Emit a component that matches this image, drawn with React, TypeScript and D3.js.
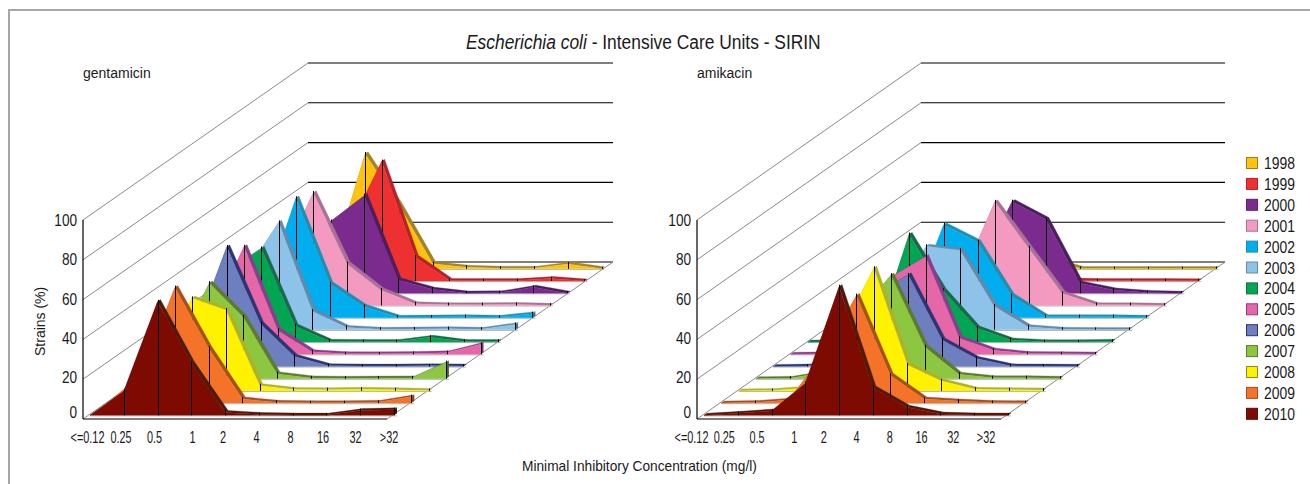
import React from "react";
import * as d3 from "d3";

const years = ["1998","1999","2000","2001","2002","2003","2004","2005","2006","2007","2008","2009","2010"];
const micLabels = ["<=0.12","0.25","0.5","1","2","4","8","16","32",">32"];
const yTicks = [100,80,60,40,20,0];

const faceColors = ["#FFC20E","#EE3130","#7B2A8E","#F49AC1","#00AEEF","#8DC3E9","#00A651","#E667A8","#6E7FBF","#8DC63F","#FFF200","#F47328","#7D0B02"];
const stripColors = ["#A08428","#B5222D","#4B1E5E","#A77296","#1F8FAF","#6689A9","#19694A","#8C3C90","#2A3574","#5D7B2E","#ADB22E","#A5501F","#4E1A0A"];
const legendBorders = ["#A57C1B","#B5222D","#5A2470","#A77296","#1F8FAF","#6689A9","#19694A","#8C3C90","#2A3574","#5D7B2E","#8C8A20","#A5501F","#5A1208"];

const gent1998 = [0,1,57.7,32,2.5,0.8,0.3,0.3,2.4,0];
const gent1999 = [0,5,25,60,12,0.2,0.2,0.2,1.2,0];
const gent2000 = [0,10,36,49,6.7,2,0.1,0.2,3,0];
const gent2001 = [0,21,56.5,21,7.8,0.8,0.4,0.4,0.5,0.1];
const gent2002 = [0,9.5,60,17,5.6,0.2,0.3,0.5,0.2,2];
const gent2003 = [0,28,54,9.4,1.2,0.3,0.4,0.6,0.3,2.7];
const gent2004 = [0,36,47,8,0.4,0.3,0.3,2.4,0.3,0.3];
const gent2005 = [0,18,54,12,1.2,0.3,0.2,0.4,0.8,5];
const gent2006 = [0,14,60,21.4,5,0.3,0.2,0.2,0.3,0.2];
const gent2007 = [0,15,48,31,2.4,0.4,0.2,0.3,0.4,8];
const gent2008 = [0,15,46.5,40.6,2.6,0.7,0.6,0.8,0.6,0.2];
const gent2009 = [0,14,58,27.6,2,0.4,0.2,0.2,0.4,3.2];
const gent2010 = [0,12,57,26,1.4,0.4,0.1,0.1,2.4,2.8];
const gentamicin = [gent1998,gent1999,gent2000,gent2001,gent2002,gent2003,gent2004,gent2005,gent2006,gent2007,gent2008,gent2009,gent2010];

const amik1998 = [0,0.1,0.5,2,5,0.2,0.1,0.1,0.1,0.1];
const amik1999 = [0,0.1,1,8,30,0.6,0.2,0.2,0.2,0.1];
const amik2000 = [0,0.2,2,12,46,37,5,1.6,0.4,0];
const amik2001 = [0,0.3,2,13,52,29,6,0.4,0.4,0.1];
const amik2002 = [0,0.3,3,46.6,38,11,0.5,0.5,0.5,0.2];
const amik2003 = [0,0.3,15,42,40,12,1.5,0.3,0.2,0.2];
const amik2004 = [0,0.2,2,54,26,7,1,0.2,0.2,0.4];
const amik2005 = [0,0.2,3,39,49,8,2,0.4,0.3,0.1];
const amik2006 = [0,0.2,3,36,46,13.3,4,0.3,0.2,0.1];
const amik2007 = [0,0.2,3,32,52,16,2.2,0.5,0.5,0.2];
const amik2008 = [0,0.2,1.5,28,61.6,13,5,0.8,0.6,0.4];
const amik2009 = [0,0.3,1.5,24,54,14,2,1,0.3,0.2];
const amik2010 = [0,1,2.2,16,64.6,13.7,4,0.6,0.2,0.1];
const amikacin = [amik1998,amik1999,amik2000,amik2001,amik2002,amik2003,amik2004,amik2005,amik2006,amik2007,amik2008,amik2009,amik2010];

// Layout (kept apart from the data)
const xInner = d3.scaleLinear([0, 9], [90, 394]);
const hScale = d3.scaleLinear([0, 100], [0, 199]);
const depthX = d3.scaleLinear([0, 12], [0, 207.6]);
const depthY = d3.scaleLinear([0, 12], [415.3, 268.8]);
const wallY = d3.scaleLinear([0, 100], [419, 220]);
const WALL_DY = -157;
const STRIP_DX = 3, STRIP_DY = -2;
const labelNudge = [0,0,0,4.5,1.5,1.5,2,1,0,0];
const FONT = "'Liberation Sans', Arial, sans-serif";
const line = d3.line<[number, number]>().curve(d3.curveLinearClosed);

function Txt({ x, y, size, sx = 1, anchor = "start", children }: any) {
  return (
    <text transform={`translate(${x},${y}) scale(${sx},1)`} fontSize={size} fontFamily={FONT} fill="#1a1a1a" textAnchor={anchor}>
      {children}
    </text>
  );
}

function Ribbon({ values, s, face, strip, ox }: any) {
  const pts: [number, number][] = values.map((v: number, i: number) => [
    ox + xInner(i) + depthX(s),
    depthY(s) - hScale(v),
  ]);
  const base = depthY(s);
  const first = pts[0], last = pts[pts.length - 1];
  const polygon: [number, number][] = [[first[0], base], ...pts, [last[0], base]];
  return (
    <g>
      <line x1={first[0]} x2={last[0] + STRIP_DX} y1={base + 0.6} y2={base + 0.6} stroke="#b5b5b5" strokeWidth={1} />
      <path
        d={line([[last[0], base], last, [last[0] + STRIP_DX, last[1] + STRIP_DY], [last[0] + STRIP_DX, base + STRIP_DY]])!}
        fill={d3.color(strip)!.darker(0.6).formatHex()}
      />
      {pts.slice(0, -1).map((p, i) => {
        const q = pts[i + 1];
        return (
          <path
            key={i}
            d={line([p, q, [q[0] + STRIP_DX, q[1] + STRIP_DY], [p[0] + STRIP_DX, p[1] + STRIP_DY]])!}
            fill={strip}
            stroke={strip}
            strokeWidth={0.3}
          />
        );
      })}
      <path d={line(polygon)!} fill={face} stroke={face} strokeWidth={0.3} />
      {pts.slice(1).map((p, i) => (
        <line key={i} x1={Math.round(p[0]) + 0.5} x2={Math.round(p[0]) + 0.5} y1={p[1] + STRIP_DY} y2={base} stroke="#000" strokeWidth={1} />
      ))}
    </g>
  );
}

function Panel({ name, series, ox, nameX, tx0, tx1, wallDx, backW, frontW }: any) {
  const labelX = d3.scalePoint<string>().domain(micLabels).range([tx0, tx1]);
  return (
    <g>
      {yTicks.map((t) => (
        <g key={t}>
          <line x1={ox + 83} y1={wallY(t)} x2={ox + 83 + wallDx} y2={wallY(t) + WALL_DY} stroke="#8a8a8a" strokeWidth={1} />
          <line x1={ox + 83 + wallDx} y1={wallY(t) + WALL_DY} x2={ox + 83 + wallDx + backW} y2={wallY(t) + WALL_DY} stroke="#000" strokeWidth={1.1} />
          <Txt x={ox + 77} y={(t === 0 ? 412 : wallY(t) - (100 - t) * 0.03) + 6.2} size={17} sx={0.8} anchor="end">{t}</Txt>
        </g>
      ))}
      <line x1={ox + 83} y1={220} x2={ox + 83} y2={419} stroke="#000" strokeWidth={1.2} />
      <line x1={ox + 83} y1={419} x2={ox + 83 + frontW} y2={419} stroke="#000" strokeWidth={1.2} />
      <line x1={ox + 83 + frontW} y1={419} x2={ox + 83 + wallDx + backW} y2={262} stroke="#8a8a8a" strokeWidth={1} />
      {series.map((values: number[], k: number) => (
        <Ribbon key={years[k]} values={values} s={years.length - 1 - k} face={faceColors[k]} strip={stripColors[k]} ox={ox} />
      ))}
      {micLabels.map((l, i) => (
        <Txt key={l} x={labelX(l)! + labelNudge[i]} y={443.3} size={17} sx={0.64} anchor="middle">{l}</Txt>
      ))}
      <Txt x={nameX} y={78} size={14}>{name}</Txt>
    </g>
  );
}

export default function App() {
  return (
    <svg width={1310} height={484} style={{ position: "absolute", left: 0, top: 0, background: "#fff" }}>
      <path d="M1310,10 H9 V484" fill="none" stroke="#a6a6a6" strokeWidth={2} />
      <text transform="translate(466,49) scale(0.87,1)" fontSize={20} fontFamily={FONT} fill="#1a1a1a">
        <tspan fontStyle="italic">Escherichia coli</tspan>
        <tspan> - Intensive Care Units - SIRIN</tspan>
      </text>
      <Panel name="gentamicin" series={gentamicin} ox={0} nameX={83} tx0={87.5} tx1={389} wallDx={225} backW={305} frontW={304} />
      <Panel name="amikacin" series={amikacin} ox={614} nameX={697} tx0={691.5} tx1={986} wallDx={224} backW={304} frontW={304} />
      <text transform="translate(45,356) rotate(-90)" fontSize={14} fontFamily={FONT} fill="#1a1a1a">Strains (%)</text>
      <Txt x={522} y={471} size={14} sx={0.98}>Minimal Inhibitory Concentration (mg/l)</Txt>
      {years.map((y, i) => {
        const cy = 163 + i * 20.9;
        return (
          <g key={y}>
            <rect x={1246.5} y={cy - 5.5} width={11} height={11} fill={faceColors[i]} stroke={legendBorders[i]} strokeWidth={1} />
            <Txt x={1264} y={cy + 6} size={17} sx={0.82}>{y}</Txt>
          </g>
        );
      })}
    </svg>
  );
}
